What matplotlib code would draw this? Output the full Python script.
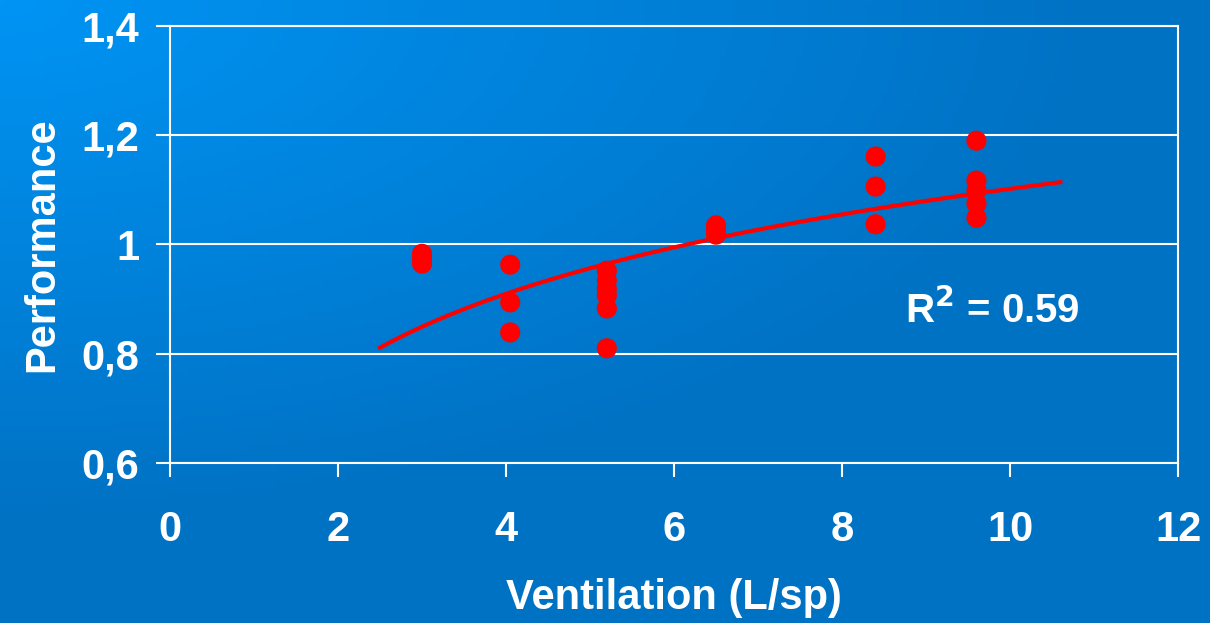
import numpy as np
import matplotlib
matplotlib.use("Agg")
import matplotlib.pyplot as plt

# measured points (Ventilation L/s per person, relative performance)
vent = [3.0, 3.0, 3.0,
        4.05, 4.05, 4.05,
        5.2, 5.2, 5.2, 5.2, 5.2, 5.2,
        6.5, 6.5, 6.5,
        8.4, 8.4, 8.4,
        9.6, 9.6, 9.6, 9.6, 9.6]
perf = [0.983, 0.975, 0.965,
        0.963, 0.894, 0.839,
        0.952, 0.934, 0.919, 0.907, 0.883, 0.810,
        1.035, 1.025, 1.018,
        1.161, 1.106, 1.037,
        1.190, 1.117, 1.099, 1.075, 1.049]

# logarithmic trend line y = a + b*ln(x)
fit_a = 0.619
fit_b = 0.2097
fit_range = (2.5, 10.6)
r2_text = "R$^2$ = 0.59"

xticks = [0, 2, 4, 6, 8, 10, 12]
yticks = [0.6, 0.8, 1.0, 1.2, 1.4]
ytick_labels = ["0,6", "0,8", "1", "1,2", "1,4"]

plt.rcParams['font.family'] = ['Liberation Sans', 'DejaVu Sans']
plt.rcParams['font.weight'] = 'bold'

fig = plt.figure(figsize=(12.1, 6.23), dpi=100)

# blue gradient background, lightest in the top-left corner
bg = fig.add_axes([0, 0, 1, 1], zorder=-10)
gx, gy = np.meshgrid(np.linspace(0, 1, 240), np.linspace(0, 1, 120))
t = np.clip(np.sqrt((gx * 1.1) ** 2 + (gy * 1.2) ** 2), 0, 1)
c0 = np.array([0, 148, 244]) / 255.0
c1 = np.array([0, 114, 196]) / 255.0
img = c0[None, None, :] * (1 - t[..., None]) + c1[None, None, :] * t[..., None]
bg.imshow(img, aspect='auto', extent=[0, 1, 0, 1])
bg.axis('off')

ax = fig.add_axes([0.1405, 0.2568, 0.8331, 0.7015])
ax.patch.set_alpha(0)

xc = np.linspace(fit_range[0], fit_range[1], 200)
ax.plot(xc, fit_a + fit_b * np.log(xc), color='#ff0000', lw=3, zorder=3)
ax.scatter(vent, perf, s=210, color='#ff0000', edgecolors='none', zorder=4)

ax.text(8.75, 0.879, r2_text, color='white', fontsize=29, fontweight='bold',
        va='center', ha='left')

ax.set_xlim(0, 12)
ax.set_ylim(0.6, 1.4)
ax.set_xticks(xticks)
ax.set_yticks(yticks)
ax.set_yticklabels(ytick_labels)
ax.grid(axis='y', color='white', lw=1.5)
ax.set_axisbelow(True)
for s in ax.spines.values():
    s.set_color('white')
    s.set_linewidth(1.5)
ax.tick_params(axis='x', colors='white', length=10, width=1.5, pad=24, labelsize=30)
ax.tick_params(axis='y', colors='white', length=10, width=1.5, pad=12, labelsize=30)
for lab in ax.get_xticklabels() + ax.get_yticklabels():
    lab.set_fontweight('bold')

ax.set_xlabel("Ventilation (L/sp)", color='white', fontsize=30, fontweight='bold', labelpad=20)
ax.set_ylabel("Performance", color='white', fontsize=30, fontweight='bold', labelpad=14)

fig.savefig("out.png", dpi=100)
